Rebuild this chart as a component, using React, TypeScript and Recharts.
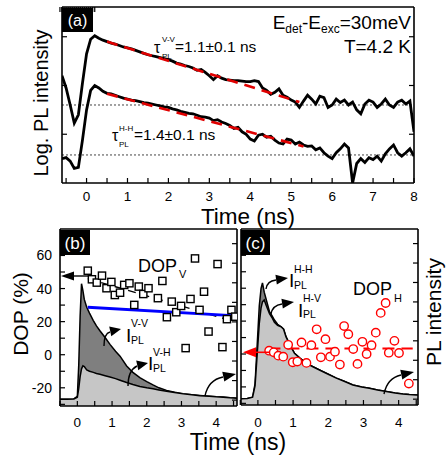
import React from "react";
import { ComposedChart, Line, Area, Scatter, XAxis, YAxis, ReferenceLine } from "recharts";

const FONT = "'Liberation Sans', Arial, Helvetica, sans-serif";

// (a) log PL transients, sampled every 0.1 ns
const timeA = [
  -0.6, -0.5, -0.4, -0.3, -0.2, -0.1, 0, 0.1, 0.2, 0.3,
  0.4, 0.5, 0.6, 0.7, 0.8, 0.9, 1, 1.1, 1.2, 1.3,
  1.4, 1.5, 1.6, 1.7, 1.8, 1.9, 2, 2.1, 2.2, 2.3,
  2.4, 2.5, 2.6, 2.7, 2.8, 2.9, 3, 3.1, 3.2, 3.3,
  3.4, 3.5, 3.6, 3.7, 3.8, 3.9, 4, 4.1, 4.2, 4.3,
  4.4, 4.5, 4.6, 4.7, 4.8, 4.9, 5, 5.1, 5.2, 5.3,
  5.4, 5.5, 5.6, 5.7, 5.8, 5.9, 6, 6.1, 6.2, 6.3,
  6.4, 6.5, 6.6, 6.7, 6.8, 6.9, 7, 7.1, 7.2, 7.3,
  7.4, 7.5, 7.6, 7.7, 7.8, 7.9, 8,
];
const logVV = [
  2.2, 1.95, 1.6, 1.23, 1.4, 2.05, 2.65, 2.95, 3.02, 2.97,
  2.93, 2.9, 2.87, 2.85, 2.82, 2.79, 2.77, 2.75, 2.72, 2.69,
  2.66, 2.63, 2.61, 2.59, 2.57, 2.55, 2.53, 2.5, 2.46, 2.44,
  2.41, 2.39, 2.36, 2.31, 2.33, 2.27, 2.2, 2.12, 2.2, 2.15,
  2.12, 2.11, 2.1, 2.1, 2.09, 2.08, 2.08, 2.1, 2.08, 1.95,
  1.9, 1.82, 1.86, 1.93, 1.8, 1.76, 1.7, 1.66, 1.55, 1.68,
  1.8, 1.72, 1.62, 1.78, 1.75, 1.55, 1.6, 1.72, 1.65, 1.7,
  1.6, 1.66, 1.5, 1.42, 1.62, 1.7, 1.66, 1.55, 1.62, 1.72,
  1.6, 1.55, 1.66, 1.7, 1.62, 1.68, 1.05,
];
const logHH = [
  0.5, 0.52, 0.45, 0.3, 0.32, 0.88, 1.5, 1.9, 2.0, 1.95,
  1.88, 1.84, 1.83, 1.8, 1.77, 1.74, 1.72, 1.7, 1.69, 1.67,
  1.65, 1.64, 1.62, 1.6, 1.58, 1.56, 1.55, 1.52, 1.5, 1.47,
  1.45, 1.43, 1.42, 1.39, 1.36, 1.35, 1.33, 1.28, 1.3, 1.25,
  1.22, 1.18, 1.12, 1.14, 1.05, 1.0, 0.9, 0.86, 0.98, 1.0,
  0.94, 0.96, 0.88, 0.82, 0.8, 0.9, 0.88, 0.8, 0.84, 0.78,
  0.75, 0.76, 0.68, 0.72, 0.62, 0.55, 0.5, 0.62, 0.7, 0.8,
  0.72, 0.0, 0.4, 0.5, 0.42, 0.52, 0.48, 0.55, 0.45, 0.6,
  0.7, 0.78, 0.62, 0.55, 0.62, 0.7, 0.55,
];
const fitVVTime = [0.5, 5.2];
const fitVVVal = [2.9, 1.66];
const fitHHTime = [0.5, 5.3];
const fitHHVal = [1.83, 0.75];
const bgVV = 1.6;
const bgHH = 0.575;

// (b) V excitation
const timeB = [-0.5, -0.3, -0.1, 0, 0.04, 0.08, 0.12, 0.16, 0.2, 0.27, 0.35, 0.46, 0.55, 0.65, 0.8, 0.94, 1.1, 1.23, 1.42, 1.6, 1.8, 2.0, 2.18, 2.35, 2.57, 2.8, 3.05, 3.3, 3.53, 3.8, 4.0, 4.2, 4.4, 4.6];
const plVV = [0.05, 0.05, 0.06, 0.2, 1.8, 4.3, 5.95, 5.6, 5.15, 4.75, 4.45, 4.07, 3.8, 3.55, 3.2, 2.85, 2.5, 2.25, 1.75, 1.42, 1.15, 0.95, 0.78, 0.63, 0.5, 0.4, 0.33, 0.27, 0.24, 0.2, 0.17, 0.16, 0.12, 0.1];
const plVH = [0.05, 0.05, 0.06, 0.15, 0.6, 1.2, 1.6, 1.76, 1.72, 1.55, 1.48, 1.42, 1.36, 1.32, 1.25, 1.18, 1.1, 1.02, 0.9, 0.8, 0.7, 0.63, 0.58, 0.52, 0.45, 0.39, 0.32, 0.27, 0.23, 0.2, 0.17, 0.15, 0.12, 0.1];
const dopVTime = [0.3, 0.42, 0.56, 0.71, 0.84, 0.98, 1.08, 1.23, 1.35, 1.5, 1.64, 1.77, 1.9, 2.05, 2.32, 2.45, 2.58, 2.72, 2.85, 2.99, 3.12, 3.26, 3.39, 3.52, 3.65, 3.78, 4.04, 4.18, 4.31, 4.44, 4.55];
const dopVVal = [50.8, 45.6, 43.6, 47.8, 40.2, 44, 36.1, 37.5, 42.2, 43.2, 30.1, 41.2, 36.7, 40.2, 34.2, 44.6, 22.7, 32.1, 25.7, 29.5, 4, 33.7, 58.2, 27.1, 38.1, 14, 54.8, 4.6, 21.5, 27.1, 23];
const blueTime = [0.3, 4.6];
const blueVal = [28.7, 23.5];
const trendVTime = [0.3, 4.5];
const trendVVal = [46, 20.2];

// (c) H excitation
const timeC = [-0.5, -0.3, -0.15, -0.08, -0.02, 0.04, 0.09, 0.13, 0.18, 0.24, 0.33, 0.4, 0.47, 0.56, 0.66, 0.73, 0.8, 0.92, 1.04, 1.2, 1.37, 1.55, 1.75, 2.0, 2.23, 2.45, 2.7, 2.95, 3.17, 3.4, 3.65, 3.9, 4.12, 4.3, 4.5, 4.6];
const plHH = [0.02, 0.03, 0.1, 0.8, 2.8, 4.8, 5.7, 5.98, 5.5, 5.1, 4.5, 4.3, 4.07, 3.85, 3.72, 3.6, 3.2, 2.75, 2.36, 2.1, 1.85, 1.68, 1.5, 1.28, 1.08, 0.92, 0.73, 0.63, 0.56, 0.47, 0.39, 0.32, 0.27, 0.24, 0.22, 0.21];
const plHV = [0.02, 0.03, 0.1, 0.7, 2.3, 3.9, 4.7, 5.0, 5.1, 4.8, 4.4, 4.2, 3.95, 3.8, 3.72, 3.6, 3.2, 2.75, 2.36, 2.1, 1.85, 1.68, 1.5, 1.28, 1.08, 0.92, 0.73, 0.63, 0.56, 0.47, 0.39, 0.32, 0.27, 0.24, 0.22, 0.21];
const dopHTime = [0.32, 0.45, 0.58, 0.72, 0.86, 0.99, 1.12, 1.24, 1.38, 1.52, 1.67, 1.79, 1.92, 2.05, 2.19, 2.33, 2.45, 2.57, 2.71, 2.83, 2.97, 3.09, 3.23, 3.35, 3.49, 3.63, 3.72, 3.88, 4.01, 4.29];
const dopHVal = [2, 1, -1, -1.6, 5.6, -5, -4.6, 7, -5.4, 5.4, 15, -2, 9, -1.6, 1.4, -6.4, 17, 12, 3, -6, 7.4, 0, 5.4, 13, 25, 31, 0.8, 8, 0.6, -18];
const meanHTime = [0.3, 4.4];
const meanHVal = [3.4, 3.4];

// ticks
const ticksTA = [-0.5, 0, 0.5, 1, 1.5, 2, 2.5, 3, 3.5, 4, 4.5, 5, 5.5, 6, 6.5, 7, 7.5, 8];
const ticksLogA = [1, 2, 3];
const ticksT = [-0.5, 0, 0.5, 1, 1.5, 2, 2.5, 3, 3.5, 4, 4.5];
const ticksDop = [-30, -20, -10, 0, 10, 20, 30, 40, 50, 60, 70];
const ticksPl = [0, 1, 2, 3, 4, 5, 6, 7, 8];

const pts = (ts: number[], vs: number[]) => ts.map((t, i) => ({ t, v: vs[i] }));

const intOnly = (v: number) => (Number.isInteger(v) ? String(v) : "");
const dopLabel = (v: number) => (v % 20 === 0 && v >= -20 && v <= 60 ? String(v) : "");
const blank = () => "";

const axLine = { stroke: "#000", strokeWidth: 1.6 };
const tkLine = { stroke: "#000", strokeWidth: 1.2 };
const tkText = { fill: "#000", fontSize: 13.5, fontFamily: FONT };
const tkTextY = { fill: "#000", fontSize: 14, fontFamily: FONT };

// axes get a 1px box; the margins below are reduced by that 1px
function PanelA() {
  const trace = timeA.map((t, i) => ({ t, vv: logVV[i], hh: logHH[i] }));
  return (
    <ComposedChart width={448} height={230} data={trace} margin={{ top: 6, right: 33, bottom: 46, left: 61 }}>
      <XAxis dataKey="t" type="number" domain={[-0.6, 8]} ticks={ticksTA} interval={0} tickFormatter={intOnly}
        height={1} tickSize={-5} tickMargin={13} axisLine={axLine} tickLine={tkLine} tick={tkText} allowDataOverflow />
      <XAxis xAxisId="top" orientation="top" type="number" domain={[-0.6, 8]} ticks={ticksTA} interval={0}
        tickFormatter={blank} height={1} tickSize={-5} axisLine={axLine} tickLine={tkLine} allowDataOverflow />
      <YAxis type="number" domain={[0, 3.61]} ticks={ticksLogA} tickFormatter={blank} width={1} tickSize={-5}
        axisLine={axLine} tickLine={tkLine} allowDataOverflow />
      <YAxis yAxisId="r" orientation="right" type="number" domain={[0, 3.61]} ticks={ticksLogA} tickFormatter={blank}
        width={1} tickSize={-5} axisLine={axLine} tickLine={tkLine} allowDataOverflow />
      <ReferenceLine y={bgVV} stroke="#444" strokeWidth={1} strokeDasharray="2 2" />
      <ReferenceLine y={bgHH} stroke="#444" strokeWidth={1} strokeDasharray="2 2" />
      <Line dataKey="vv" type="linear" stroke="#000" strokeWidth={2.8} dot={false} isAnimationActive={false} />
      <Line dataKey="hh" type="linear" stroke="#000" strokeWidth={2.8} dot={false} isAnimationActive={false} />
      <Line data={pts(fitVVTime, fitVVVal)} dataKey="v" type="linear" stroke="#e00000" strokeWidth={2.6}
        strokeDasharray="11 7" dot={false} isAnimationActive={false} />
      <Line data={pts(fitHHTime, fitHHVal)} dataKey="v" type="linear" stroke="#e00000" strokeWidth={2.6}
        strokeDasharray="11 7" dot={false} isAnimationActive={false} />
    </ComposedChart>
  );
}

const Square = (p: any) => (
  <rect x={p.cx - 3.6} y={p.cy - 3.6} width={7.2} height={7.2} fill="#fff" stroke="#000" strokeWidth={1.4} />
);
const Ring = (p: any) => <circle cx={p.cx} cy={p.cy} r={4.2} fill="#fff" stroke="#ff0000" strokeWidth={1.4} />;

function PanelB() {
  return (
    <ComposedChart width={240} height={237} margin={{ top: 6, right: 2, bottom: 52, left: 59 }}>
      <XAxis dataKey="t" type="number" domain={[-0.5, 4.6]} ticks={ticksT} interval={0} tickFormatter={intOnly}
        height={1} tickSize={-5} tickMargin={16} axisLine={axLine} tickLine={tkLine} tick={tkText} allowDataOverflow />
      <XAxis xAxisId="top" orientation="top" type="number" domain={[-0.5, 4.6]} ticks={ticksT} interval={0}
        tickFormatter={blank} height={1} tickSize={-5} axisLine={axLine} tickLine={tkLine} allowDataOverflow />
      <YAxis yAxisId="dop" type="number" domain={[-31, 76]} ticks={ticksDop} interval={0} tickFormatter={dopLabel}
        width={1} tickSize={-5} tickMargin={13} axisLine={axLine} tickLine={tkLine} tick={tkTextY} allowDataOverflow />
      <YAxis yAxisId="pl" orientation="right" type="number" domain={[-0.3, 8.75]} ticks={ticksPl} interval={0}
        tickFormatter={blank} width={1} tickSize={-5} axisLine={axLine} tickLine={tkLine} allowDataOverflow />
      <Area data={pts(timeB, plVV)} yAxisId="pl" dataKey="v" type="linear" baseValue={-0.3} fill="#7f7f7f"
        fillOpacity={1} stroke="#000" strokeWidth={1.5} isAnimationActive={false} />
      <Area data={pts(timeB, plVH)} yAxisId="pl" dataKey="v" type="linear" baseValue={-0.3} fill="#c6c6c6"
        fillOpacity={1} stroke="#000" strokeWidth={1.5} isAnimationActive={false} />
      <Line data={pts(trendVTime, trendVVal)} yAxisId="dop" dataKey="v" type="linear" stroke="#000" strokeWidth={1.4}
        strokeDasharray="8 6" dot={false} isAnimationActive={false} />
      <Line data={pts(blueTime, blueVal)} yAxisId="dop" dataKey="v" type="linear" stroke="#0000ff" strokeWidth={2.8}
        dot={false} isAnimationActive={false} />
      <Scatter data={pts(dopVTime, dopVVal)} yAxisId="dop" dataKey="v" shape={Square} isAnimationActive={false} />
    </ComposedChart>
  );
}

function PanelC() {
  return (
    <ComposedChart width={210} height={237} margin={{ top: 6, right: 29, bottom: 53, left: 2 }}>
      <XAxis dataKey="t" type="number" domain={[-0.48, 4.55]} ticks={ticksT} interval={0} tickFormatter={intOnly}
        height={1} tickSize={-5} tickMargin={17} axisLine={axLine} tickLine={tkLine} tick={tkText} allowDataOverflow />
      <XAxis xAxisId="top" orientation="top" type="number" domain={[-0.48, 4.55]} ticks={ticksT} interval={0}
        tickFormatter={blank} height={1} tickSize={-5} axisLine={axLine} tickLine={tkLine} allowDataOverflow />
      <YAxis yAxisId="dop" type="number" domain={[-31, 76]} ticks={ticksDop} interval={0} tickFormatter={blank}
        width={1} tickSize={-5} axisLine={axLine} tickLine={tkLine} allowDataOverflow />
      <YAxis yAxisId="pl" orientation="right" type="number" domain={[-0.3, 8.75]} ticks={ticksPl} interval={0}
        tickFormatter={blank} width={1} tickSize={-5} axisLine={axLine} tickLine={tkLine} allowDataOverflow />
      <Area data={pts(timeC, plHH)} yAxisId="pl" dataKey="v" type="linear" baseValue={-0.3} fill="#7f7f7f"
        fillOpacity={1} stroke="#000" strokeWidth={1.5} isAnimationActive={false} />
      <Area data={pts(timeC, plHV)} yAxisId="pl" dataKey="v" type="linear" baseValue={-0.3} fill="#c6c6c6"
        fillOpacity={1} stroke="#000" strokeWidth={1.5} isAnimationActive={false} />
      <Line data={pts(meanHTime, meanHVal)} yAxisId="dop" dataKey="v" type="linear" stroke="#ff0000" strokeWidth={2}
        strokeDasharray="12 7" dot={false} isAnimationActive={false} />
      <Scatter data={pts(dopHTime, dopHVal)} yAxisId="dop" dataKey="v" shape={Ring} isAnimationActive={false} />
    </ComposedChart>
  );
}

function Head({ x, y, angle, len = 12, w = 4.6, color = "#000" }: { x: number; y: number; angle: number; len?: number; w?: number; color?: string }) {
  const a = (angle * Math.PI) / 180;
  const bx = x - len * Math.cos(a);
  const by = y - len * Math.sin(a);
  const px = -Math.sin(a) * w;
  const py = Math.cos(a) * w;
  return <polygon points={`${x},${y} ${bx + px},${by + py} ${bx - px},${by - py}`} fill={color} />;
}

function Overlay() {
  const arc = { fill: "none", stroke: "#000", strokeWidth: 1.4 };
  return (
    <svg width={448} height={459} style={{ position: "absolute", left: 0, top: 0, pointerEvents: "none" }}
      fontFamily={FONT}>
      {/* panel tags */}
      <rect x={62} y={8} width={31} height={24} fill="#000" />
      <text x={77.5} y={26} fontSize={16} fill="#fff" textAnchor="middle">(a)</text>
      <rect x={60} y={230} width={30} height={25} fill="#000" />
      <text x={75} y={249} fontSize={17} fill="#fff" textAnchor="middle">(b)</text>
      <rect x={241} y={230} width={29} height={25} fill="#000" />
      <text x={255.5} y={249} fontSize={17} fill="#fff" textAnchor="middle">(c)</text>

      {/* axis titles */}
      <text transform="translate(48,103) rotate(-90)" fontSize={20} textAnchor="middle">Log. PL intensity</text>
      <text x={248} y={224} fontSize={22.5} textAnchor="middle">Time (ns)</text>
      <text transform="translate(28,314) rotate(-90)" fontSize={21} textAnchor="middle">DOP (%)</text>
      <text x={238} y={450} fontSize={23} textAnchor="middle">Time (ns)</text>
      <text transform="translate(441,312) rotate(-90)" fontSize={21} textAnchor="middle">PL intensity</text>

      {/* (a) annotations */}
      <text x={411} y={29} fontSize={19} textAnchor="end">
        E<tspan fontSize={12} dy={4}>det</tspan><tspan dy={-4}>-E</tspan><tspan fontSize={12} dy={4}>exc</tspan><tspan dy={-4}>=30meV</tspan>
      </text>
      <text x={411} y={53} fontSize={19} textAnchor="end">T=4.2 K</text>
      <text x={154} y={53} fontSize={16}>τ</text>
      <text x={162} y={42} fontSize={8}>V-V</text>
      <text x={162} y={59} fontSize={8}>PL</text>
      <text x={175} y={52} fontSize={15.5}>=1.1±0.1 ns</text>
      <text x={112} y={141} fontSize={16}>τ</text>
      <text x={119} y={131} fontSize={8}>H-H</text>
      <text x={119} y={147} fontSize={8}>PL</text>
      <text x={134} y={140} fontSize={15.5}>=1.4±0.1 ns</text>

      {/* (b) annotations */}
      <text x={138} y={272} fontSize={18}>DOP</text>
      <text x={179} y={278} fontSize={11}>V</text>
      <text x={126} y={342} fontSize={19}>I</text>
      <text x={131} y={327} fontSize={10.5}>V-V</text>
      <text x={131} y={344} fontSize={10.5}>PL</text>
      <text x={148} y={370} fontSize={19}>I</text>
      <text x={153} y={356} fontSize={10.5}>V-H</text>
      <text x={153} y={372} fontSize={10.5}>PL</text>
      <line x1={88} y1={276} x2={70} y2={276} {...arc} />
      <Head x={61} y={276} angle={180} len={13} w={4.5} />
      <path d="M104,346 C104,338 106,333 110,332" {...arc} />
      <Head x={121} y={329} angle={-12} len={11} w={5} />
      <path d="M128,386 C128,376 131,369 137,366" {...arc} />
      <Head x={148} y={363} angle={-12} len={11} w={5} />
      <path d="M205,396 C207,386 213,379 223,377" {...arc} />
      <Head x={236} y={374} angle={-12} len={13} w={5} />

      {/* (c) annotations */}
      <text x={353} y={295} fontSize={18}>DOP</text>
      <text x={394} y={302} fontSize={11}>H</text>
      <text x={289} y={287} fontSize={19}>I</text>
      <text x={294} y={273} fontSize={10.5}>H-H</text>
      <text x={294} y={289} fontSize={10.5}>PL</text>
      <text x={298} y={317} fontSize={19}>I</text>
      <text x={303} y={302} fontSize={10.5}>H-V</text>
      <text x={303} y={318} fontSize={10.5}>PL</text>
      <path d="M266,289 C267,283 270,281 276,280" {...arc} />
      <Head x={288} y={278} angle={-8} len={12} w={5} />
      <path d="M271,314 C272,308 275,305 282,304" {...arc} />
      <Head x={294} y={302} angle={-8} len={12} w={5} />
      <path d="M384,394 C386,384 392,377 401,375" {...arc} />
      <Head x={414} y={372} angle={-12} len={13} w={5} />
      <line x1={270} y1={352.3} x2={252} y2={352.3} stroke="#ff0000" strokeWidth={1.6} />
      <Head x={243} y={352.3} angle={180} len={13} w={5} color="#ff0000" />
    </svg>
  );
}

export default function App() {
  return (
    <div style={{ position: "absolute", left: 0, top: 0, width: 448, height: 459, background: "#fff", fontFamily: FONT }}>
      <div style={{ position: "absolute", left: 0, top: 0 }}>
        <PanelA />
      </div>
      <div style={{ position: "absolute", left: 0, top: 222 }}>
        <PanelB />
      </div>
      <div style={{ position: "absolute", left: 238, top: 222 }}>
        <PanelC />
      </div>
      <Overlay />
    </div>
  );
}
